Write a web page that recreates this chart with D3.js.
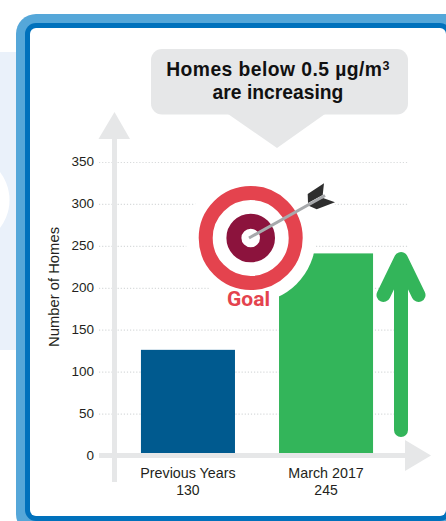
<!DOCTYPE html>
<meta charset="utf-8" />
<head>
<title>Homes below 0.5 µg/m³ are increasing</title>
<script src="https://d3js.org/d3.v7.min.js"></script>
<style>
  html, body { margin: 0; padding: 0; background: #fff; overflow: hidden; }
  svg { display: block; }
  text { font-family: "Liberation Sans", sans-serif; }
  .tick-label, .cat-label, .y-title { fill: #231f20; }
</style>
</head>
<body>
<script>
// values
var categories = ["Previous Years", "March 2017"];
var barValues = [126, 241];        // bar heights as drawn
var printedValues = ["130", "245"]; // numbers printed under the bars
var barColors = ["#005a8f", "#33b55a"];
var yTicks = [0, 50, 100, 150, 200, 250, 300, 350];
var titleLines = ["Homes below 0.5 µg/m", "are increasing"];

var width = 446, height = 521;
var axisGrey = "#e6e7e8";

var svg = d3.select("body").append("svg")
    .attr("width", width)
    .attr("height", height);

// scales
var x = d3.scaleBand().domain(categories).range([119, 395]).paddingInner(0.319).paddingOuter(0.159);
var y = d3.scaleLinear().domain([0, 350]).range([455.5, 162]);

// page background behind the frame
svg.append("rect").attr("x", 0).attr("y", 52).attr("width", 20).attr("height", 298).attr("fill", "#eaf1fa");
svg.append("circle").attr("cx", -36.5).attr("cy", 200).attr("r", 46).attr("fill", "#fff");

// frame
svg.append("rect").attr("x", 16).attr("y", 14).attr("width", 450).attr("height", 520).attr("rx", 20).attr("fill", "#55a7d9");
svg.append("rect").attr("x", 25).attr("y", 23).attr("width", 426).attr("height", 498).attr("rx", 11).attr("fill", "#0071bc");
svg.append("rect").attr("x", 30).attr("y", 28).attr("width", 416).attr("height", 488).attr("rx", 6).attr("fill", "#fff");

// dotted grid
var grid = svg.append("g")
    .attr("transform", "translate(99,0)")
    .call(d3.axisRight(y).tickValues(yTicks.slice(1)).tickSize(309).tickFormat(""));
grid.select(".domain").remove();
grid.selectAll("line")
    .attr("stroke", "#d8dadb")
    .attr("stroke-width", 1.2)
    .attr("stroke-dasharray", "1.2,1.9");

// bars
svg.selectAll(".bar")
    .data(barValues)
    .enter().append("rect")
    .attr("class", "bar")
    .attr("x", function(d, i) { return x(categories[i]); })
    .attr("y", function(d) { return y(d); })
    .attr("width", x.bandwidth())
    .attr("height", function(d) { return y(0) - y(d); })
    .attr("fill", function(d, i) { return barColors[i]; });

// axes with arrow heads
svg.append("rect").attr("x", 112).attr("y", 135).attr("width", 5).attr("height", 347).attr("fill", axisGrey);
svg.append("path").attr("d", "M114.5,112L130,139H98.5Z").attr("fill", axisGrey);
svg.append("rect").attr("x", 99).attr("y", 453).attr("width", 310).attr("height", 5).attr("fill", axisGrey);
svg.append("path").attr("d", "M431,455.5L405,471V440Z").attr("fill", axisGrey);

// y tick labels
var yAxis = svg.append("g")
    .attr("transform", "translate(99,-0.7)")
    .call(d3.axisLeft(y).tickValues(yTicks).tickSize(0).tickPadding(5));
yAxis.select(".domain").remove();
yAxis.selectAll("text")
    .attr("class", "tick-label")
    .style("font-size", "13.5px")
    .style("font-family", "'Liberation Sans', sans-serif");

// y title
svg.append("text")
    .attr("class", "y-title")
    .attr("transform", "translate(59,287)rotate(-90)")
    .attr("text-anchor", "middle")
    .style("font-size", "14.8px")
    .text("Number of Homes");

// category labels
categories.forEach(function(c, i) {
  var cx = x(c) + x.bandwidth() / 2;
  svg.append("text").attr("class", "cat-label").attr("x", cx).attr("y", 478)
      .attr("text-anchor", "middle").style("font-size", "14.3px").text(c);
  svg.append("text").attr("class", "cat-label").attr("x", cx).attr("y", 495)
      .attr("text-anchor", "middle").style("font-size", "14px").text(printedValues[i]);
});

// green up arrow
svg.append("path")
    .attr("d", "M401,430V262M383.5,295L401,259L418.5,295")
    .attr("fill", "none")
    .attr("stroke", "#33b55a")
    .attr("stroke-width", 14)
    .attr("stroke-linecap", "round")
    .attr("stroke-linejoin", "round");

// callout
svg.append("rect").attr("x", 151).attr("y", 49).attr("width", 257).attr("height", 65.5).attr("rx", 11).attr("fill", axisGrey);
svg.append("path").attr("d", "M228,114L277,148L325,114Z").attr("fill", axisGrey);
var title = svg.selectAll(".title")
    .data(titleLines)
    .enter().append("text")
    .attr("class", "title")
    .attr("x", 278)
    .attr("y", function(d, i) { return 76 + i * 23; })
    .attr("text-anchor", "middle")
    .style("font-size", "19.3px")
    .style("font-weight", 700)
    .style("letter-spacing", function(d, i) { return i == 0 ? "0.45px" : "0"; })
    .attr("fill", "#111")
    .text(function(d) { return d; });
// superscript on the first line
title.filter(function(d, i) { return i == 0; })
    .append("tspan")
    .attr("dy", -6)
    .style("font-size", "12.5px")
    .text("3");

// target
var tx = 250.7, ty = 238;
svg.append("circle").attr("cx", tx).attr("cy", ty).attr("r", 65).attr("fill", "#fff");
svg.append("circle").attr("cx", tx).attr("cy", ty).attr("r", 45).attr("fill", "none").attr("stroke", "#e4434e").attr("stroke-width", 14);
svg.append("circle").attr("cx", tx).attr("cy", ty).attr("r", 16.8).attr("fill", "none").attr("stroke", "#8c133d").attr("stroke-width", 15);

// dart
var fins = "M307.7,194L324,183.3L322.7,195L308,203ZM307,205L316.7,209.3L335,202.3L323,198Z";
svg.append("path").attr("d", fins).attr("fill", "#fff").attr("stroke", "#fff").attr("stroke-width", 4);
svg.append("path").attr("d", fins).attr("fill", "#2e2e2e");
svg.append("line").attr("x1", 249).attr("y1", 238).attr("x2", 325).attr("y2", 195.5)
    .attr("stroke", "#a7a9ac").attr("stroke-width", 3);

svg.append("text")
    .attr("x", 248.5)
    .attr("y", 306)
    .attr("text-anchor", "middle")
    .style("font-family", "Roboto, sans-serif")
    .style("font-size", "21px")
    .style("font-weight", 700)
    .attr("fill", "#e4434e")
    .text("Goal");
</script>
</body>
